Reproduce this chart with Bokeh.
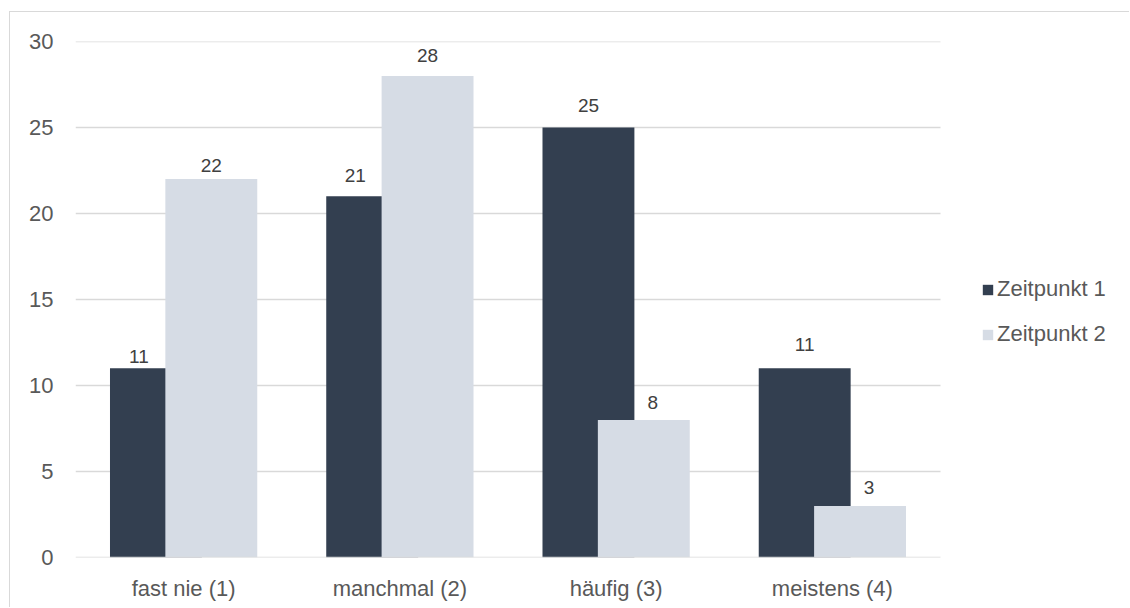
from bokeh.plotting import figure
from bokeh.models import ColumnDataSource, Range1d, Legend, LegendItem, FixedTicker
from bokeh.core.properties import value
from bokeh.embed import file_html
from bokeh.resources import INLINE

# --- data -------------------------------------------------------------
categories = ["fast nie (1)", "manchmal (2)", "häufig (3)", "meistens (4)"]
series_names = ["Zeitpunkt 1", "Zeitpunkt 2"]
zeitpunkt_1 = [11, 21, 25, 11]
zeitpunkt_2 = [22, 28, 8, 3]
y_ticks = [0, 5, 10, 15, 20, 25, 30]

# --- styling ----------------------------------------------------------
DARK = "#333f50"
LIGHT = "#d6dce5"
GRID = "#d9d9d9"
AXIS_TEXT = "#595959"
LABEL_TEXT = "#404040"
FONT = "Liberation Sans"

WIDTH, HEIGHT = 1120, 596
BORDER_LEFT = 65
FRAME_W = WIDTH - BORDER_LEFT      # plot area runs to the right edge, legend sits inside it
PX_PER_CAT = 216.25                # horizontal space given to one category

BAR_W = 0.425      # width of each bar in category units
SHIFT = 0.128      # dodge of each series from the category centre (bars overlap)
# vertical gap (px) between bar top and the baseline of its value label
gap_1 = [5, 14, 15, 17]
gap_2 = [7, 13, 10, 11]

n = len(categories)
centers = [i + 0.5 for i in range(n)]

# labels slide sideways onto the visible part of a partly covered bar
off_1 = [-17 if b > a else 0 for a, b in zip(zeitpunkt_1, zeitpunkt_2)]
off_2 = [9 if a > b else 0 for a, b in zip(zeitpunkt_1, zeitpunkt_2)]

src = ColumnDataSource(dict(
    x1=[c - SHIFT for c in centers],
    x2=[c + SHIFT for c in centers],
    z1=zeitpunkt_1,
    z2=zeitpunkt_2,
    t1=[str(v) for v in zeitpunkt_1],
    t2=[str(v) for v in zeitpunkt_2],
    xo1=off_1,
    xo2=off_2,
    yo1=[-(g + 7) for g in gap_1],
    yo2=[-(g + 7) for g in gap_2],
))

p = figure(
    x_range=Range1d(0, FRAME_W / PX_PER_CAT),
    y_range=Range1d(y_ticks[0], y_ticks[-1]),
    width=WIDTH, height=HEIGHT,
    output_backend="svg",
    toolbar_location=None,
    min_border_left=BORDER_LEFT, min_border_right=0,
    min_border_top=29, min_border_bottom=51,
    margin=(11, 0, 0, 9),
)
p.styles = {"border-top": f"1px solid {GRID}", "border-left": f"1px solid {GRID}"}
p.outline_line_color = None
p.background_fill_color = "white"
p.border_fill_color = "white"
p.xgrid.grid_line_color = None
p.ygrid.grid_line_color = None

# horizontal gridlines across the category area only
p.segment(x0=0, x1=n, y0=y_ticks[1:], y1=y_ticks[1:], line_color=GRID, line_width=1.3)

r1 = p.vbar(x="x1", top="z1", width=BAR_W, source=src, fill_color=DARK, line_color=None)
r2 = p.vbar(x="x2", top="z2", width=BAR_W, source=src, fill_color=LIGHT, line_color=None)

# category axis baseline
p.segment(x0=0, x1=n, y0=y_ticks[0], y1=y_ticks[0], line_color=GRID, line_width=1.3)

p.text(x="x1", y="z1", text="t1", x_offset="xo1", y_offset="yo1", source=src,
       text_align="center", text_baseline="alphabetic",
       text_font=value(FONT), text_font_size="19px", text_color=LABEL_TEXT)
p.text(x="x2", y="z2", text="t2", x_offset="xo2", y_offset="yo2", source=src,
       text_align="center", text_baseline="alphabetic",
       text_font=value(FONT), text_font_size="19px", text_color=LABEL_TEXT)

# axes
p.yaxis.ticker = FixedTicker(ticks=y_ticks)
p.xaxis.ticker = FixedTicker(ticks=centers)
p.xaxis.major_label_overrides = {c: name for c, name in zip(centers, categories)}
for ax in (p.xaxis[0], p.yaxis[0]):
    ax.axis_line_color = None
    ax.major_tick_line_color = None
    ax.minor_tick_line_color = None
    ax.major_label_text_font = FONT
    ax.major_label_text_font_size = "22px"
    ax.major_label_text_color = AXIS_TEXT
p.yaxis.major_label_standoff = 16
p.xaxis.major_label_standoff = 12

legend = Legend(
    items=[LegendItem(label=series_names[0], renderers=[r1]),
           LegendItem(label=series_names[1], renderers=[r2])],
    location=(906, 210),
    orientation="vertical",
    glyph_width=13, glyph_height=13,
    label_standoff=3, spacing=19,
    padding=0, margin=0,
    border_line_color=None, background_fill_alpha=0,
    label_text_font=FONT, label_text_font_size="22px", label_text_color=AXIS_TEXT,
)
p.add_layout(legend, "center")

open("out.html", "w").write(file_html(p, INLINE))
